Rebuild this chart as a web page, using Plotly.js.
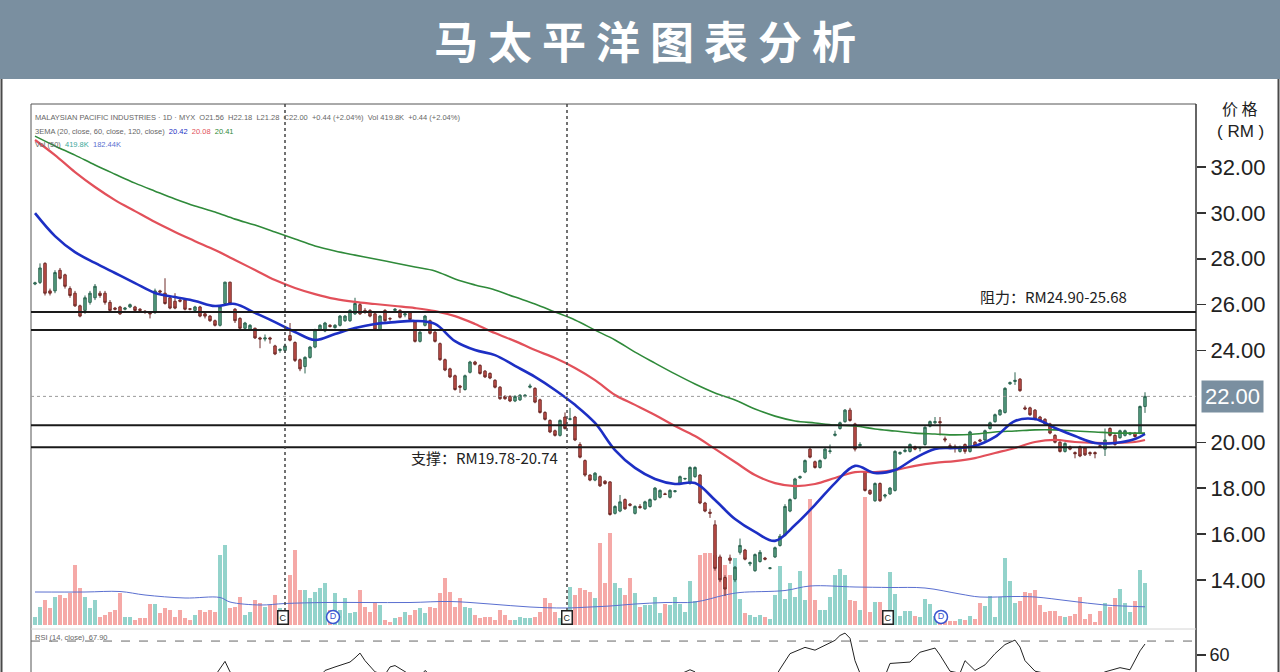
<!DOCTYPE html>
<html><head><meta charset="utf-8">
<script src="https://cdn.plot.ly/plotly-3.0.1.min.js"></script>
<style>html,body{margin:0;padding:0;background:#fff;}#chart{width:1280px;height:672px;}</style>
</head><body><div id="chart"></div>
<script>
// ---------- DATA ----------
const openP = [26.9,26.97,27.8,26.6,26.6,27.5,27.3,26.7,26.5,25.95,
25.75,26.1,26.3,26.5,26.5,26.1,25.85,25.9,25.8,25.9,
25.9,25.8,25.72,25.65,25.65,26.6,26.5,26.3,26.15,26.2,
26.2,25.82,25.75,25.9,25.6,25.5,25.3,25.1,26.05,26.98,
25.8,25.4,24.97,24.9,24.97,24.55,24.5,24.55,24.2,24.0,
24.0,24.65,24.35,23.6,23.3,23.7,24.15,24.9,24.85,25.1,
25.0,25.1,25.3,25.3,25.6,26.0,25.75,25.75,25.6,24.9,
25.75,25.4,25.75,25.75,25.55,25.65,25.25,24.4,25.1,25.3,
24.8,24.3,23.6,23.2,22.9,22.45,22.3,23.05,23.5,23.35,
23.1,23.0,22.7,22.4,22.0,22.0,21.8,21.85,22.0,22.4,
22.35,21.85,21.3,20.95,20.5,20.3,21.1,21.0,21.1,19.9,
19.2,18.57,18.35,18.5,18.3,18.27,16.9,17.0,17.5,17.3,
16.9,17.2,17.1,17.2,17.5,17.6,17.75,17.6,17.85,18.2,
18.4,18.2,18.5,18.57,17.35,16.95,16.4,15.0,14.1,14.95,
14.0,15.2,15.3,14.7,14.4,14.8,14.95,14.5,15.0,15.5,
15.95,17.0,17.55,18.45,18.7,19.7,19.15,18.9,19.3,19.6,
20.3,20.6,20.9,21.4,20.8,19.85,18.7,17.9,17.45,18.2,
17.65,17.75,17.9,19.5,19.6,19.6,19.8,19.75,19.9,20.7,
20.85,20.9,20.15,19.85,19.8,19.6,19.9,19.6,20.0,20.1,
20.1,20.6,20.9,21.2,21.3,22.55,22.65,22.75,21.5,21.5,
21.4,21.1,21.0,20.8,20.3,20.0,19.6,19.8,19.55,19.8,
19.75,19.55,19.55,19.85,19.7,20.6,20.3,20.2,20.3,20.35,
20.4,20.4,21.56];
const highP = [27.0,27.8,27.85,26.7,27.5,27.6,27.35,26.8,26.6,26.0,
26.4,26.6,26.9,26.6,26.6,26.2,25.9,25.95,25.9,26.05,
25.95,25.85,25.75,25.7,26.7,26.65,27.15,26.35,26.5,26.25,
26.25,25.85,25.95,25.95,25.65,25.55,25.35,25.95,27.0,27.0,
25.85,25.45,25.25,25.15,25.0,24.6,24.7,24.6,24.25,24.1,
24.3,25.2,24.4,23.65,23.75,24.2,24.95,25.15,25.25,25.15,
25.15,25.55,25.55,25.8,26.3,26.1,25.85,25.8,25.65,25.55,
25.8,25.45,25.85,25.8,25.65,25.7,25.3,24.85,25.55,25.35,
24.85,24.35,23.65,23.25,22.95,22.5,22.95,23.55,23.55,23.4,
23.15,23.05,22.75,22.45,22.05,22.05,22.05,22.1,22.1,22.55,
22.4,21.9,21.35,21.0,20.55,21.0,21.3,21.5,21.15,20.0,
19.25,18.6,18.7,18.55,18.35,18.3,17.25,17.7,17.55,17.35,
17.25,17.3,17.45,17.55,18.05,17.95,17.8,17.95,17.9,18.55,
18.45,18.95,18.95,18.6,17.4,17.1,16.6,15.1,14.2,15.1,
14.6,15.8,15.35,14.8,15.15,15.3,15.0,14.55,15.45,16.0,
17.3,17.55,18.45,18.55,19.25,19.8,19.2,19.25,19.75,19.9,
20.5,20.9,21.45,21.5,20.85,20.0,18.75,17.95,18.25,18.25,
17.75,18.05,19.65,19.6,19.75,19.95,19.85,19.8,20.7,20.95,
21.1,21.1,20.25,19.95,19.9,19.85,19.95,20.5,20.05,20.15,
20.55,20.9,21.25,21.45,22.4,22.65,23.05,22.8,21.6,21.55,
21.45,21.15,21.05,20.85,20.35,20.05,20.0,19.85,19.6,19.85,
19.8,19.6,19.6,19.9,20.6,20.65,20.35,20.55,20.55,20.45,
20.45,21.6,22.18];
const lowP = [26.85,26.9,26.4,26.4,26.5,27.1,26.7,26.3,25.9,25.45,
25.6,26.0,26.2,26.3,26.0,25.7,25.75,25.55,25.75,25.85,
25.7,25.7,25.6,25.4,25.6,26.5,26.0,25.8,25.8,26.1,
25.75,25.75,25.7,25.45,25.4,25.25,25.05,25.05,26.0,26.0,
25.2,24.9,24.9,24.85,24.5,24.1,24.4,24.3,23.8,23.9,
23.9,24.4,23.5,23.1,23.0,23.65,24.1,24.85,24.8,25.0,
24.95,25.05,25.25,25.25,25.55,25.55,25.6,25.45,24.85,24.85,
25.25,25.3,25.7,25.4,25.45,25.3,24.35,24.35,25.05,24.7,
24.35,23.55,23.1,22.8,22.25,22.15,22.25,23.0,23.35,22.95,
22.8,22.75,22.35,21.85,21.85,21.75,21.75,21.8,21.95,22.35,
21.7,21.25,20.95,20.4,20.25,20.25,20.55,20.95,20.05,19.3,
18.5,18.3,18.3,18.05,18.15,16.8,16.85,16.95,17.05,17.2,
16.85,17.1,17.05,17.15,17.45,17.55,17.7,17.55,17.8,18.15,
18.35,18.15,18.45,17.3,16.95,16.7,14.4,13.9,13.3,14.7,
13.9,15.1,14.85,14.6,14.35,14.75,14.85,14.45,14.95,15.45,
15.9,16.95,17.5,18.4,18.65,19.3,18.85,18.85,19.25,19.5,
20.25,20.55,20.85,20.9,19.6,19.75,17.85,17.7,17.4,17.4,
17.55,17.7,17.85,19.45,19.55,19.55,19.65,19.6,19.85,20.65,
20.8,20.3,20.0,19.7,19.55,19.55,19.5,19.55,19.8,20.0,
20.05,20.55,20.85,21.15,21.25,22.5,22.5,22.2,21.4,21.15,
20.95,20.9,20.75,20.35,19.95,19.55,19.55,19.65,19.3,19.35,
19.4,19.4,19.3,19.75,19.4,20.25,19.85,20.15,20.25,20.3,
20.2,20.35,21.28];
const closeP = [26.95,27.6,26.5,26.5,27.4,27.15,26.8,26.4,25.95,25.5,
26.3,26.5,26.8,26.4,26.1,25.75,25.8,25.6,25.85,26.0,
25.75,25.75,25.7,25.6,26.6,26.55,26.05,25.85,25.85,26.15,
25.8,25.8,25.9,25.5,25.5,25.3,25.1,25.9,26.98,26.05,
25.3,24.97,25.2,25.1,24.55,24.5,24.55,24.5,23.85,24.05,
24.2,24.45,23.57,23.2,23.7,24.15,24.9,25.1,25.2,25.05,
25.1,25.5,25.5,25.75,26.05,25.6,25.7,25.5,24.9,25.5,
25.3,25.38,25.8,25.45,25.6,25.35,24.4,24.8,25.5,24.75,
24.4,23.6,23.15,22.85,22.3,22.4,22.9,23.5,23.4,23.0,
22.85,22.8,22.4,21.9,21.9,21.8,22.0,22.05,22.05,22.45,
21.75,21.3,21.0,20.45,20.3,20.95,20.6,21.02,20.1,19.35,
18.57,18.35,18.65,18.1,18.2,16.85,17.2,17.4,17.1,17.25,
17.2,17.15,17.4,17.5,18.0,17.9,17.72,17.9,17.88,18.5,
18.42,18.9,18.9,17.35,17.0,16.9,14.5,14.0,13.6,14.85,
14.55,15.5,14.9,14.75,15.1,15.2,14.9,14.52,15.4,15.9,
17.2,17.5,18.4,18.5,19.2,19.35,18.9,19.2,19.7,19.62,
20.35,20.85,21.4,20.95,19.7,19.9,17.9,17.75,18.2,17.45,
17.7,18.0,19.6,19.55,19.65,19.9,19.7,19.75,20.65,20.9,
20.9,20.85,20.1,19.8,19.75,19.75,19.6,20.45,19.85,20.05,
20.5,20.85,21.2,21.4,22.35,22.6,22.7,22.25,21.45,21.2,
21.0,20.95,20.8,20.4,20.0,19.6,19.95,19.7,19.5,19.4,
19.45,19.5,19.5,19.8,20.1,20.3,19.9,20.5,20.5,20.4,
20.25,21.56,22.0];
// volume in thousands of shares
const volumeK = [80,180,250,170,280,300,270,320,600,370,
280,170,250,80,100,130,150,320,80,80,
50,70,70,210,210,120,170,150,80,150,
70,50,100,150,130,150,130,700,800,170,
180,280,100,130,250,220,180,200,300,170,
120,500,750,350,350,270,330,370,420,150,
320,150,270,120,130,350,180,130,220,200,
50,30,70,80,130,100,150,170,120,180,
170,320,470,330,180,270,180,170,100,70,
80,80,50,150,100,50,50,80,70,70,
80,130,270,220,130,70,100,380,300,370,
350,330,270,820,420,920,420,370,300,470,
320,180,200,200,280,120,210,200,280,210,
130,440,240,700,720,720,700,680,600,500,
670,260,120,100,80,100,80,60,300,590,
260,420,280,540,250,1260,250,150,150,280,
500,560,500,250,240,150,1280,130,230,230,
100,530,310,90,140,140,90,80,260,210,
90,40,40,40,40,60,50,90,60,220,
190,290,80,280,670,440,220,240,330,320,
350,200,130,140,140,90,80,90,110,280,
60,110,30,140,220,180,270,360,220,130,
240,550,420];
const volMaIdx = [0,10,17,22,30,37,39,45,50,58,66,75,83,91,99,106,111,115,120,126,132,138,141,150,155,164,171,178,185,189,196,200,207,214,222];
const volMaK   = [330,330,335,300,270,275,230,200,215,225,225,225,235,210,180,170,180,190,210,225,230,300,325,345,390,380,375,370,310,280,285,280,240,200,182];
const emaIdx = [0,4,8,12,16,20,24,28,32,36,40,44,48,52,56,60,64,68,72,76,80,84,88,92,96,100,104,108,112,116,120,124,128,132,136,140,144,148,152,156,160,164,168,172,176,180,184,188,192,196,200,204,208,212,216,220,222];
const ema20 = [29.99,28.99,28.29,27.82,27.38,26.94,26.51,26.33,26.16,25.94,26.03,25.64,25.24,24.81,24.46,24.72,24.98,25.16,25.24,25.29,25.16,24.41,24.02,23.80,23.33,22.85,22.28,21.63,20.84,19.66,18.88,18.40,18.18,18.22,17.48,16.65,16.09,15.70,16.39,17.27,18.22,18.97,18.66,18.79,19.31,19.71,19.75,19.84,20.23,20.93,21.01,20.62,20.27,19.97,19.97,20.14,20.36];
const ema60 = [33.18,32.52,31.78,31.13,30.56,30.08,29.60,29.17,28.77,28.38,27.95,27.51,27.07,26.73,26.46,26.25,26.12,26.03,25.94,25.85,25.72,25.50,25.16,24.76,24.41,24.02,23.67,23.24,22.71,22.06,21.63,21.19,20.71,20.27,19.71,19.14,18.57,18.22,18.09,18.18,18.44,18.70,18.70,18.79,18.97,19.10,19.18,19.31,19.53,19.75,20.01,20.10,20.01,19.97,19.97,20.01,20.10];
const ema120 = [33.35,32.92,32.52,32.09,31.69,31.30,30.95,30.61,30.30,30.04,29.73,29.47,29.17,28.86,28.56,28.34,28.16,27.99,27.82,27.64,27.47,27.12,26.86,26.64,26.33,26.03,25.68,25.33,24.89,24.46,23.93,23.45,22.98,22.54,22.15,21.84,21.45,21.14,20.93,20.84,20.75,20.71,20.58,20.49,20.40,20.36,20.32,20.36,20.45,20.49,20.54,20.54,20.49,20.45,20.40,20.40,20.40];
const rsiIdx = [0,8,16,24,30,35,37,38,39,41,48,53,56,58,60,62,63,64,65,66,67,68,70,71,72,73,75,77,78,79,82,90,100,105,108,115,125,131,132,134,138,145,148,149,151,154,156,158,160,161,162,163,164,165,166,170,171,175,177,180,181,183,185,186,188,190,192,194,196,197,198,200,202,205,210,214,217,219,220,221,222];
const rsiVal = [40,38,36,42,38,40,50,55.5,48,42,35,30,40,49,51.5,54,55,58,61.4,56,52,48,46,51.5,52.5,50,46,44,49,46,38,36,35,40,34,28,40,49.5,48,38,25,35,44,50,61,65.5,63.5,67,70.5,74,75.7,72,56,47,40,45,54,55,62,65,60,48.5,47,56,49,53,61,67.5,70.7,65.7,56,48.5,47,42,40,48,51,49.5,56,63,67.9];
const priceTicks = [14,16,18,20,24,26,28,30,32];
const rsiTicks = [60];
const srLevels = [25.68, 24.90, 20.74, 19.78];
const lastPrice = 22.00;
const rsiUpper = 70;
const sessionBreakIdx = [50, 106.4];
const earningsIdx = [49.6, 106.4, 170.6];
const dividendIdx = [59.6, 181.2];

// ---------- LAYOUT HELPERS ----------
const W = 1280, H = 672, ML = 31, MR = 84, MT = 104, MB = 0;
const PW = W - ML - MR, PH = H - MT - MB;
const fx = px => (px - ML) / PW;
const fy = py => (H - MB - py) / PH;

const idx = openP.map((_, i) => i);
const volColors = closeP.map((c, i) => c >= openP[i] ? '#93d3cb' : '#f5a9a7');
const BANNER = '#7a8fa0';

const traces = [
  {type: 'bar', x: idx, y: volumeK, yaxis: 'y', xaxis: 'x', width: 0.8,
   marker: {color: volColors, line: {width: 0}}, hoverinfo: 'skip'},
  {type: 'scatter', mode: 'lines', x: volMaIdx, y: volMaK, yaxis: 'y',
   line: {color: '#5a6fd0', width: 1, shape: 'spline'}, hoverinfo: 'skip'},
  {type: 'scatter', mode: 'lines', x: emaIdx, y: ema120, yaxis: 'y2',
   line: {color: '#2f8a3a', width: 1.6, shape: 'spline'}, hoverinfo: 'skip'},
  {type: 'scatter', mode: 'lines', x: emaIdx, y: ema60, yaxis: 'y2',
   line: {color: '#e2505a', width: 2.2, shape: 'spline'}, hoverinfo: 'skip'},
  {type: 'candlestick', x: idx, open: openP, high: highP, low: lowP, close: closeP,
   yaxis: 'y2', xaxis: 'x', whiskerwidth: 0,
   increasing: {line: {color: '#2c6450', width: 1}, fillcolor: '#5ba486'},
   decreasing: {line: {color: '#6e2b28', width: 1}, fillcolor: '#c8514c'},
   hoverinfo: 'skip'},
  {type: 'scatter', mode: 'lines', x: emaIdx, y: ema20, yaxis: 'y2',
   line: {color: '#1d2fc4', width: 2.6, shape: 'spline'}, hoverinfo: 'skip'},
  {type: 'scatter', mode: 'lines', x: rsiIdx, y: rsiVal, yaxis: 'y3',
   line: {color: '#222', width: 1}, hoverinfo: 'skip'},
  {type: 'scatter', mode: 'markers+text', x: dividendIdx, y: dividendIdx.map(() => 80), yaxis: 'y',
   marker: {symbol: 'circle', size: 13, color: '#fff', line: {color: '#3a55d0', width: 1.5}},
   text: dividendIdx.map(() => 'D'), textposition: 'middle center',
   textfont: {color: '#3a55d0', size: 9, family: 'Liberation Sans'}, hoverinfo: 'skip'}
];

const shapes = [
  {type: 'rect', xref: 'paper', yref: 'paper', x0: fx(0), x1: fx(1280), y0: fy(79), y1: fy(0),
   fillcolor: BANNER, line: {width: 0}},
  {type: 'line', xref: 'paper', yref: 'paper', x0: fx(1.5), x1: fx(1.5), y0: fy(672), y1: fy(79),
   line: {color: '#4a4a4a', width: 2}},
  {type: 'line', xref: 'paper', yref: 'paper', x0: fx(1278.5), x1: fx(1278.5), y0: fy(672), y1: fy(79),
   line: {color: '#4a4a4a', width: 2}},
  {type: 'line', xref: 'paper', yref: 'paper', x0: 0, x1: 1, y0: 1, y1: 1, line: {color: '#555', width: 1}},
  {type: 'line', xref: 'paper', yref: 'paper', x0: 0, x1: 0, y0: 0, y1: 1, line: {color: '#555', width: 1}},
  {type: 'line', xref: 'paper', yref: 'paper', x0: 1, x1: 1, y0: 0, y1: 1, line: {color: '#333', width: 1.5}},
  {type: 'line', xref: 'paper', yref: 'paper', x0: 0, x1: 1, y0: fy(629), y1: fy(629), line: {color: '#d4d4d4', width: 1}},
  {type: 'line', xref: 'paper', yref: 'y2', x0: 0, x1: 1, y0: lastPrice, y1: lastPrice,
   line: {color: '#9a9a9a', width: 1, dash: 'dot'}},
  {type: 'line', xref: 'paper', yref: 'y3', x0: 0, x1: 1, y0: rsiUpper, y1: rsiUpper,
   line: {color: '#666', width: 1, dash: 'dash'}}
];
srLevels.forEach(v => shapes.push({type: 'line', xref: 'paper', yref: 'y2', x0: 0, x1: 1, y0: v, y1: v,
  line: {color: '#1a1a1a', width: 2}}));
sessionBreakIdx.forEach(v => shapes.push({type: 'line', xref: 'x', yref: 'paper', x0: v, x1: v,
  y0: fy(611), y1: 1, line: {color: '#444', width: 1.5, dash: 'dot'}}));

const small = {family: 'Liberation Sans', size: 7.5, color: '#666'};
const annotations = [
  {xref: 'paper', yref: 'paper', x: fx(645), y: fy(40), text: '马 太 平 洋 图 表 分 析', showarrow: false,
   font: {family: 'Noto Sans CJK SC', size: 44, color: '#ffffff', weight: 'bold'}, xanchor: 'center', yanchor: 'middle'},
  {xref: 'paper', yref: 'paper', x: fx(1240), y: fy(108), text: '价 格', showarrow: false,
   font: {family: 'Noto Sans CJK SC', size: 16, color: '#222'}, xanchor: 'center', yanchor: 'middle'},
  {xref: 'paper', yref: 'paper', x: fx(1240), y: fy(131), text: '( RM )', showarrow: false,
   font: {family: 'Liberation Sans', size: 17, color: '#222'}, xanchor: 'center', yanchor: 'middle'},
  {xref: 'paper', yref: 'y2', x: fx(1232), y: lastPrice, text: lastPrice.toFixed(2), showarrow: false,
   font: {family: 'Liberation Sans', size: 22, color: '#ffffff'}, bgcolor: BANNER, borderpad: 3,
   xanchor: 'center', yanchor: 'middle'},
  {xref: 'paper', yref: 'paper', x: fx(978), y: fy(296), text: '阻力：RM24.90-25.68', showarrow: false,
   font: {family: 'Noto Sans CJK SC', size: 15, color: '#222'}, xanchor: 'left', yanchor: 'middle'},
  {xref: 'paper', yref: 'paper', x: fx(409), y: fy(457), text: '支撑：RM19.78-20.74', showarrow: false,
   font: {family: 'Noto Sans CJK SC', size: 15, color: '#222'}, xanchor: 'left', yanchor: 'middle'},
  {xref: 'paper', yref: 'paper', x: fx(33), y: fy(118),
   text: 'MALAYSIAN PACIFIC INDUSTRIES · 1D · MYX  O21.56  H22.18  L21.28  C22.00  +0.44 (+2.04%)  Vol 419.8K  +0.44 (+2.04%)',
   showarrow: false, font: small, xanchor: 'left', yanchor: 'middle'},
  {xref: 'paper', yref: 'paper', x: fx(33), y: fy(131),
   text: '3EMA (20, close, 60, close, 120, close)  <span style="color:#1d2fc4">20.42</span>  <span style="color:#e2505a">20.08</span>  <span style="color:#2f8a3a">20.41</span>',
   showarrow: false, font: small, xanchor: 'left', yanchor: 'middle'},
  {xref: 'paper', yref: 'paper', x: fx(33), y: fy(144),
   text: 'Vol (50)  <span style="color:#3aa89a">419.8K</span>  <span style="color:#5a6fd0">182.44K</span>',
   showarrow: false, font: small, xanchor: 'left', yanchor: 'middle'},
  {xref: 'paper', yref: 'paper', x: fx(33), y: fy(637),
   text: 'RSI (14, close)  67.90', showarrow: false, font: small, xanchor: 'left', yanchor: 'middle'}
];
earningsIdx.forEach(v => annotations.push({xref: 'x', yref: 'y', x: v, y: 80, text: 'C', showarrow: false,
  font: {family: 'Liberation Sans', size: 9, color: '#222'}, bgcolor: '#ffffff', bordercolor: '#222',
  borderwidth: 1.5, borderpad: 1, xanchor: 'center', yanchor: 'middle'}));

const layout = {
  width: W, height: H, margin: {l: ML, r: MR, t: MT, b: MB, pad: 0},
  paper_bgcolor: '#ffffff', plot_bgcolor: '#ffffff', showlegend: false,
  font: {family: 'Liberation Sans', color: '#222'},
  xaxis: {domain: [0, 1], range: [-0.8, 232.2], visible: false, fixedrange: true,
          rangeslider: {visible: false}, showgrid: false, zeroline: false},
  yaxis: {domain: [fy(628), 1], range: [-30, 5210], visible: false, fixedrange: true,
          showgrid: false, zeroline: false},
  yaxis2: {overlaying: 'y', side: 'right', anchor: 'x', range: [11.9, 34.75],
           tickvals: priceTicks, ticktext: priceTicks.map(v => v.toFixed(2)),
           ticks: 'outside', ticklen: 9, tickwidth: 1.5, tickcolor: '#333',
           tickfont: {family: 'Liberation Sans', size: 22, color: '#222'},
           showgrid: false, zeroline: false, showline: false, fixedrange: true},
  yaxis3: {domain: [0, fy(630)], side: 'right', anchor: 'x', range: [47.9, 77.9],
           tickvals: rsiTicks, ticks: 'outside', ticklen: 9, tickwidth: 1.5, tickcolor: '#333',
           tickfont: {family: 'Liberation Sans', size: 18, color: '#222'},
           showgrid: false, zeroline: false, showline: false, fixedrange: true},
  shapes: shapes, annotations: annotations
};

Plotly.newPlot('chart', traces, layout, {staticPlot: true, displayModeBar: false});
</script>
</body></html>
